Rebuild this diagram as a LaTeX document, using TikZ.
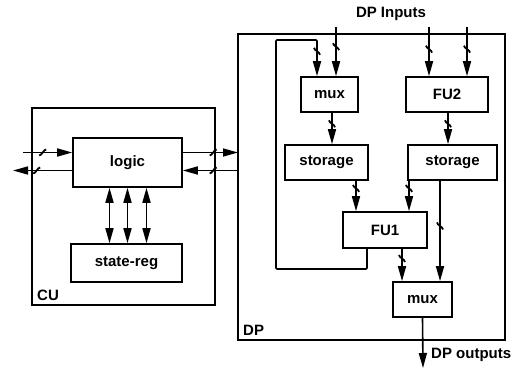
\documentclass[tikz,border=0pt]{standalone}
\usepackage{fontspec}
\setmainfont{Liberation Sans}
\usetikzlibrary{positioning,arrows.meta,calc,decorations.markings}
\tikzset{
  unit-node/.style={draw, line width=1.6pt, font=\fontsize{15}{17}\selectfont\bfseries,
    inner sep=0pt, anchor=center},
  frame-box/.style={draw, line width=1.6pt},
  frame-label/.style={font=\fontsize{15}{17}\selectfont\bfseries, anchor=south west, inner sep=0pt},
  io-label/.style={font=\fontsize{15}{17}\selectfont\bfseries, inner sep=0pt},
  flow-arrow/.style={-{Triangle[length=15pt,width=8pt]}, line width=1.6pt},
  bidir-arrow/.style={{Triangle[length=15pt,width=8pt]}-{Triangle[length=15pt,width=8pt]}, line width=1.6pt},
  bus/.style={postaction={decorate, decoration={markings,
    mark=at position #1 with {\draw[-, line width=1.8pt]
      (-3.5pt,-3pt) .. controls (-1pt,-3pt) and (1pt,3pt) .. (3.5pt,3pt);}}}},
  bus/.default=0.4
}
\begin{document}
\begin{tikzpicture}[x=1pt,y=-1pt]
\useasboundingbox (0,0) rectangle (530,371);
% control unit
\draw[frame-box] (32,108) rectangle (215,305);
\node[frame-label] (culbl) at (37,301) {CU};
\node[unit-node, minimum width=109pt, minimum height=49pt] (logic) at (127.5,162.5) {logic};
\node[unit-node, minimum width=111pt, minimum height=38pt] (statereg) at (126.5,263) {state-reg};
\foreach \dx in {-18,0,19}
  \draw[bidir-arrow] ([xshift=\dx pt]logic.south) -- ([xshift=\dx pt]logic.south |- statereg.north);
% data path
\draw[frame-box] (238,34) rectangle (505,340);
\coordinate (dpw) at (238,160);
\node[frame-label] (dplbl) at (243,336) {DP};
\node[io-label] (dpin) at (391,14) {DP Inputs};
\node[unit-node, minimum width=57pt, minimum height=35pt] (mux1) at (329.5,94.5) {mux};
\node[unit-node, minimum width=82pt, minimum height=35pt] (fu2) at (447,94.5) {FU2};
\node[unit-node, minimum width=83pt, minimum height=35pt] (stor1) at (326.5,162.5) {storage};
\node[unit-node, minimum width=89pt, minimum height=35pt] (stor2) at (452.5,162.5) {storage};
\node[unit-node, minimum width=84pt, minimum height=36pt] (fu1) at (385,230) {FU1};
\node[unit-node, minimum width=59pt, minimum height=35pt] (mux2) at (422.5,299.5) {mux};
\coordinate (dpout) at (423,368);
\node[io-label, anchor=west] (dpoutlbl) at (431,355) {DP outputs};
% CU <-> outside and CU <-> DP
\draw[flow-arrow, bus=0.4] ([yshift=10pt]logic.west -| 23,0) -- ([yshift=10pt]logic.west);
\draw[flow-arrow, bus=0.6] ([yshift=-8pt]logic.west) -- ([yshift=-8pt]logic.west -| 13,0);
\draw[flow-arrow, bus=0.55] ([yshift=10pt]logic.east) -- ([yshift=10pt]logic.east -| dpw);
\draw[flow-arrow, bus=0.45] ([yshift=-8pt]logic.east -| dpw) -- ([yshift=-8pt]logic.east);
% DP inputs
\draw[flow-arrow, bus=0.4] ([xshift=6.5pt]mux1.north |- 0,27) -- ([xshift=6.5pt]mux1.north);
\draw[flow-arrow, bus=0.45] ([xshift=-18pt]fu2.north |- 0,27) -- ([xshift=-18pt]fu2.north);
\draw[flow-arrow, bus=0.45] ([xshift=20pt]fu2.north |- 0,27) -- ([xshift=20pt]fu2.north);
% feedback FU1 -> mux
\draw[flow-arrow, bus=0.94, rounded corners=1pt] ([xshift=-18pt]fu1.south) |- (276,269) |- (317,40) -- ([xshift=-12.5pt]mux1.north);
% internal flow
\draw[flow-arrow, bus=0.35] ([xshift=2.5pt]mux1.south) -- ([xshift=2.5pt]mux1.south |- stor1.north);
\draw[flow-arrow, bus=0.35] ([xshift=1pt]fu2.south) -- ([xshift=1pt]fu2.south |- stor2.north);
\draw[flow-arrow, bus=0.25] ([xshift=29.5pt]stor1.south) -- ([xshift=29.5pt]stor1.south |- fu1.north);
\draw[flow-arrow, bus=0.25] ([xshift=-43.5pt]stor2.south) -- ([xshift=-43.5pt]stor2.south |- fu1.north);
\draw[flow-arrow, bus=0.45] ([xshift=-12.5pt]stor2.south) -- ([xshift=-12.5pt]stor2.south |- mux2.north);
\draw[flow-arrow, bus=0.3] ([xshift=17pt]fu1.south) -- ([xshift=17pt]fu1.south |- mux2.north);
\draw[flow-arrow] (mux2.south) -- (dpout);
\end{tikzpicture}
\end{document}
